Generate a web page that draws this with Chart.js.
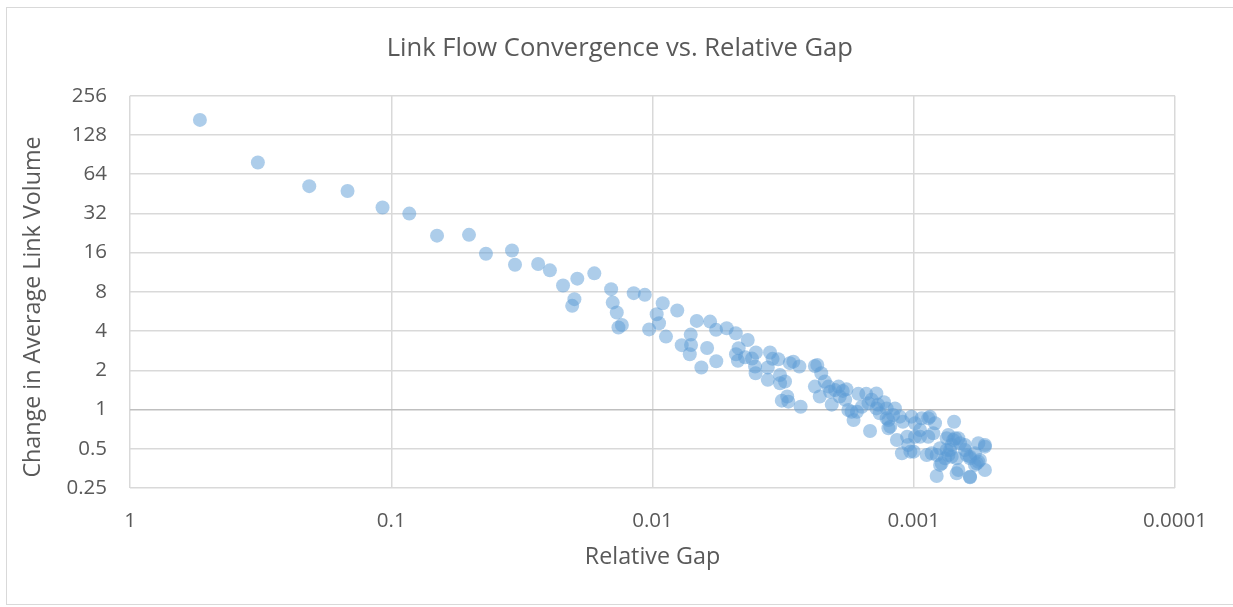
<!DOCTYPE html>
<html><head><meta charset="utf-8">
<script src="https://cdn.jsdelivr.net/npm/chart.js@4/dist/chart.umd.min.js"></script>
<style>
html,body{margin:0;padding:0;background:#fff;}
#wrap{position:relative;width:1233px;height:607px;overflow:hidden;}
#frame{position:absolute;left:6px;top:7px;width:1240px;height:598px;border:1px solid #d9d9d9;box-sizing:border-box;}
canvas{position:absolute;left:0;top:0;}
</style></head><body>
<div id="wrap"><div id="frame"></div><canvas id="c" width="1233" height="607"></canvas></div>
<script>
// Relative gap (x) for each iteration
const relativeGap = [
0.540,0.324,0.206,0.147,0.108,0.0853,0.0668,0.0504,0.0434,0.0345,
0.0336,0.0274,0.0247,0.0220,0.0194,0.0167,0.0199,0.0203,0.0144,0.0142,
0.0137,0.0131,0.0135,0.0118,0.0107,0.0103,0.00914,0.00964,0.00944,0.00888,
0.00804,0.00677,0.00602,0.00571,0.00520,0.00480,0.00432,0.00714,0.00773,0.00712,
0.00720,0.00618,0.00650,0.00570,0.00468,0.00479,0.00471,0.00442,0.00416,0.00402,
0.00405,0.00403,0.00355,0.00347,0.00330,0.00362,0.00362,0.00325,0.00311,0.00325,
0.00320,0.00305,0.00302,0.00298,0.00289,0.00274,0.00271,0.00239,0.00234,0.00226,
0.00239,0.00229,0.00219,0.00212,0.00206,0.00200,0.00194,0.00192,0.00181,0.00183,
0.00178,0.00170,0.00165,0.00163,0.00152,0.00139,0.00149,0.00147,0.00139,0.00135,
0.00173,0.00137,0.00127,0.00118,0.00125,0.00123,0.00113,0.00110,0.00102,0.000989,
0.00116,0.00111,0.00103,0.00105,0.000989,0.000946,0.000880,0.000829,0.000842,0.000892,
0.000854,0.000782,0.000817,0.000701,0.000748,0.000695,0.000665,0.000726,0.000685,0.000675,
0.000609,0.000627,0.000583,0.000566,0.000534,0.000566,0.000534,0.000583,0.000759,0.000793,
0.00127,0.00125,0.00106,0.000880,0.000946,0.000793,0.000748,0.000716,0.000609,0.000558,
0.000637,0.000706,0.00100,0.000867,0.000932,0.000737,0.000675,0.000637,0.000534,0.000737,
0.000685,0.000609,0.000574,0.000609,0.000716,0.000817,0.00145,0.00130,0.00158,0.00120,
0.00209,0.00187
];
// Change in average link volume (y) for each iteration
const linkVolumeChange = [
167,78.7,51.8,47.5,35.5,31.9,21.6,21.9,15.7,16.6,
12.9,13.1,11.7,8.95,10.1,11.1,7.03,6.25,8.39,6.62,
5.55,4.46,4.26,7.82,7.59,4.12,6.55,5.39,4.60,3.63,
5.75,4.79,4.73,4.09,4.21,3.85,3.42,3.76,3.12,3.13,
2.66,2.97,2.10,2.35,2.96,2.66,2.37,2.52,2.46,2.74,
2.14,1.90,2.74,2.45,2.43,2.10,1.69,1.84,1.64,1.59,
1.17,1.26,1.15,2.27,2.33,2.14,1.05,2.16,2.20,1.90,
1.50,1.26,1.64,1.50,1.09,1.41,1.50,1.26,1.43,1.19,
0.993,0.832,0.963,1.32,1.32,1.33,1.12,0.685,1.02,0.937,
0.963,1.09,1.02,1.02,0.832,0.739,0.882,0.807,0.882,0.785,
0.584,0.462,0.475,0.535,0.619,0.697,0.857,0.785,0.658,0.448,
0.462,0.387,0.309,0.807,0.602,0.602,0.551,0.489,0.422,0.344,
0.302,0.448,0.462,0.551,0.535,0.398,0.344,0.376,0.422,0.504,
0.857,0.718,0.619,0.619,0.619,0.376,0.489,0.435,0.435,0.410,
0.489,0.584,0.475,0.882,0.857,0.638,0.602,0.535,0.519,0.448,
0.324,0.305,0.387,0.422,0.535,0.448,1.19,1.14,1.05,0.909,
1.37,1.39
];
const xTickValues = [1, 0.1, 0.01, 0.001, 0.0001];
const xTickLabels = ['1', '0.1', '0.01', '0.001', '0.0001'];
const yTickValues = [0.25, 0.5, 1, 2, 4, 8, 16, 32, 64, 128, 256];
const yTickLabels = ['0.25', '0.5', '1', '2', '4', '8', '16', '32', '64', '128', '256'];

const textColor = '#595959';
const font = 'Open Sans';

new Chart(document.getElementById('c'), {
  type: 'scatter',
  data: {
    datasets: [{
      label: 'Change in Average Link Volume',
      data: relativeGap.map((x, i) => ({ x: x, y: linkVolumeChange[i] })),
      backgroundColor: 'rgba(91,155,213,0.5)',
      borderColor: 'rgba(91,155,213,0.5)',
      borderWidth: 0,
      pointRadius: 7,
      pointHoverRadius: 7
    }]
  },
  options: {
    responsive: false,
    animation: false,
    layout: { padding: 0 },
    plugins: {
      legend: { display: false },
      tooltip: { enabled: false },
      title: {
        display: true,
        text: ' Link Flow Convergence vs. Relative Gap',
        color: textColor,
        font: { family: font, size: 25.6, weight: 'normal', lineHeight: 1.2 },
        padding: { top: 33, bottom: 32 }
      }
    },
    scales: {
      x: {
        type: 'logarithmic',
        reverse: true,
        min: 0.0001,
        max: 1,
        afterBuildTicks: s => { s.ticks = xTickValues.map(v => ({ value: v })); },
        afterFit: s => { s.height = 119; },
        ticks: {
          callback: (v, i) => xTickLabels[i],
          color: textColor,
          font: { family: font, size: 20.5 },
          padding: 21,
          maxRotation: 0,
          autoSkip: false
        },
        grid: { color: '#d9d9d9', lineWidth: 1.5, drawTicks: false },
        border: { display: false },
        title: {
          display: true,
          text: 'Relative Gap',
          color: textColor,
          font: { family: font, size: 23.3, lineHeight: 1.2 },
          padding: { top: 0, bottom: 36 }
        }
      },
      y: {
        type: 'logarithmic',
        min: 0.25,
        max: 256,
        afterBuildTicks: s => { s.ticks = yTickValues.map(v => ({ value: v })); },
        afterFit: s => { s.width = 130; },
        ticks: {
          callback: (v, i) => yTickLabels[i],
          color: textColor,
          font: { family: font, size: 20.5 },
          padding: 23,
          autoSkip: false
        },
        grid: {
          color: c => (c.tick && c.tick.value === 1) ? '#bfbfbf' : '#d9d9d9',
          lineWidth: 1.5,
          drawTicks: false
        },
        border: { display: false },
        title: {
          display: true,
          text: 'Change in Average Link Volume     ',
          color: textColor,
          font: { family: font, size: 23.3, lineHeight: 1.2 },
          padding: { top: 19, bottom: 0 }
        }
      },
      rightGap: {
        type: 'linear',
        position: 'right',
        display: true,
        afterFit: s => { s.width = 58; },
        ticks: { display: false },
        grid: { display: false, drawTicks: false },
        border: { display: false }
      }
    }
  }
});
</script>
</body></html>
